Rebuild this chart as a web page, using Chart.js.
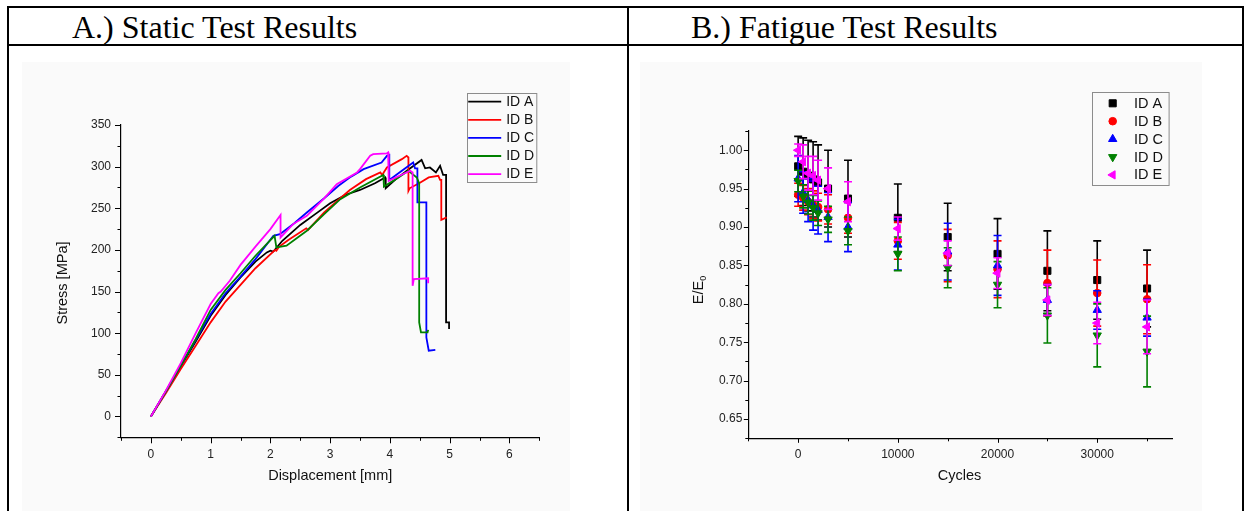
<!DOCTYPE html>
<html><head><meta charset="utf-8">
<script src="https://cdn.jsdelivr.net/npm/chart.js@4.4.0/dist/chart.umd.min.js"></script>
<style>
html,body{margin:0;padding:0;background:#fff;width:1245px;height:511px;overflow:hidden;}
.ln{position:absolute;background:#000;}
.title{position:absolute;font-family:"Liberation Serif","Times New Roman",serif;font-size:32px;line-height:32px;color:#000;white-space:nowrap;}
canvas{position:absolute;}
.bg{position:absolute;background:#fafafa;}
</style></head><body>
<div class="bg" style="left:22px;top:62px;width:548px;height:449px"></div>
<div class="bg" style="left:640px;top:62px;width:562px;height:449px"></div>
<div class="ln" style="left:7px;top:6px;width:1237px;height:2px"></div>
<div class="ln" style="left:7px;top:44px;width:1237px;height:2px"></div>
<div class="ln" style="left:7px;top:6px;width:2px;height:505px"></div>
<div class="ln" style="left:627px;top:6px;width:2px;height:505px"></div>
<div class="ln" style="left:1242px;top:6px;width:2px;height:505px"></div>
<div class="title" style="left:72px;top:11px">A.) Static Test Results</div>
<div class="title" style="left:691px;top:11px">B.) Fatigue Test Results</div>
<canvas id="c1" width="617" height="464" style="left:10px;top:47px;width:617px;height:464px"></canvas>
<canvas id="c2" width="612" height="464" style="left:630px;top:47px;width:612px;height:464px"></canvas>
<script>
// ---------- A.) Static test data ----------
const seriesNames = ['ID A','ID B','ID C','ID D','ID E'];
const seriesColors = ['#000000','#ff0000','#0000ff','#008000','#ff00ff'];

const dispA = [0,0.25,0.5,0.75,1,1.25,1.5,1.75,1.94,2.0,2.05,2.2,2.5,2.75,3,3.25,3.5,3.75,3.92,3.93,4.1,4.3,4.53,4.59,4.67,4.77,4.84,4.89,4.94,4.94,4.99,4.99];
const stressA = [0,30,60,90,121,146,167,186,197,199,198,211,230,243,256,266,272,280,287,274,285,296,308,298,299,293,301,290,290,113,113,105];
const dispB = [0,0.25,0.5,0.75,1,1.25,1.5,1.75,2.08,2.1,2.15,2.3,2.6,2.63,2.9,3.17,3.33,3.6,3.84,3.87,3.95,4.2,4.28,4.31,4.31,4.33,4.51,4.65,4.81,4.84,4.86,4.86,4.95];
const stressB = [0,28,57,85,113,138,158,178,200,199,204,212,226,224,245,262,272,285,293,290,299,309,313,311,271,274,281,287,289,284,284,236,239];
const dispC = [0,0.25,0.5,0.75,1,1.25,1.5,1.75,2.05,2.16,2.4,2.61,2.9,3.14,3.35,3.56,3.86,3.95,3.99,3.99,4.2,4.39,4.42,4.46,4.46,4.61,4.61,4.65,4.76];
const stressC = [0,30,61,92,123,148,168,189,217,219,232,245,262,277,288,297,305,313,314,284,295,305,298,298,257,257,95,79,80];
const dispD = [0,0.25,0.5,0.75,1,1.25,1.5,1.75,2.07,2.1,2.27,2.61,2.9,3.17,3.5,3.89,3.9,4.1,4.31,4.45,4.49,4.49,4.52,4.63,4.64];
const stressD = [0,30,61,93,128,152,172,193,217,203,205,223,243,261,275,290,276,285,295,287,280,113,101,101,104];
const dispE = [0,0.25,0.5,0.75,1,1.13,1.17,1.32,1.5,1.75,2,2.17,2.17,2.38,2.61,2.9,3.11,3.45,3.5,3.67,3.72,3.95,3.97,3.98,4.34,4.38,4.38,4.4,4.64,4.64];
const stressE = [0,31,64,100,135,148,150,163,182,204,225,242,215,231,241,262,279,293,297,313,315,316,317,283,295,293,157,165,166,160];

const staticYMajor = [0,50,100,150,200,250,300,350];
const staticYMinor = [-25,25,75,125,175,225,275,325];
const staticXMajor = [0,1,2,3,4,5,6];
const staticXMinor = [-0.5,0.5,1.5,2.5,3.5,4.5,5.5,6.5];
const staticXLabels = ['0','1','2','3','4','5','6'];

// ---------- B.) Fatigue test data ----------
const cycles = [0,500,1000,1500,2000,3000,5000,10000,15000,20000,25000,30000,35000];
const meanA = [0.979,0.972,0.967,0.962,0.958,0.950,0.937,0.912,0.887,0.865,0.843,0.831,0.820];
const errA  = [0.039,0.044,0.046,0.049,0.049,0.050,0.050,0.044,0.044,0.046,0.052,0.051,0.050];
const meanB = [0.942,0.938,0.933,0.929,0.926,0.923,0.912,0.882,0.863,0.845,0.827,0.814,0.806];
const errB  = [0.015,0.016,0.017,0.018,0.018,0.019,0.020,0.024,0.034,0.037,0.043,0.043,0.045];
const meanC = [0.963,0.945,0.935,0.928,0.922,0.913,0.900,0.877,0.868,0.850,0.805,0.792,0.782];
const errC  = [0.030,0.027,0.028,0.032,0.031,0.032,0.032,0.033,0.037,0.039,0.020,0.025,0.024];
const meanD = [0.960,0.940,0.932,0.925,0.918,0.910,0.895,0.865,0.847,0.825,0.785,0.759,0.738];
const errD  = [0.014,0.015,0.015,0.016,0.016,0.017,0.018,0.022,0.026,0.030,0.036,0.041,0.046];
const meanE = [1.000,0.985,0.970,0.967,0.961,0.950,0.933,0.898,0.866,0.840,0.805,0.775,0.770];
const errE  = [0.008,0.022,0.022,0.025,0.026,0.027,0.026,0.015,0.016,0.020,0.020,0.027,0.035];

const fatYMajor = [0.65,0.70,0.75,0.80,0.85,0.90,0.95,1.00];
const fatYMinor = [0.625,0.675,0.725,0.775,0.825,0.875,0.925,0.975,1.025];
const fatXMajor = [0,10000,20000,30000];
const fatXMinor = [-5000,5000,15000,25000,35000];
const fatXLabels = ['0','10000','20000','30000'];

const markerStyles = ['rect','circle','triangle','triangle','triangle'];
const markerRot = [0,0,0,180,270];
const markerRad = [5,3.8,4.8,4.8,4.8];

// ---------- helpers ----------
const FONT = '"Liberation Sans", Arial, sans-serif';
function zip(xs, ys){ return xs.map((x,i)=>({x:x,y:ys[i]})); }

function tickPlugin(xMajor,xMinor,xLabels,yMajor,yMinor,lenMaj,lenMin,labelOff){
  return {
    id:'ticks',
    afterDraw(chart){
      const ctx = chart.ctx, xs = chart.scales.x, ys = chart.scales.y;
      const a = chart.chartArea;
      ctx.save();
      ctx.strokeStyle = '#000'; ctx.lineWidth = 1;
      ctx.beginPath();
      yMajor.forEach(v=>{const p=Math.round(ys.getPixelForValue(v))+0.5; ctx.moveTo(a.left-lenMaj,p); ctx.lineTo(a.left,p);});
      yMinor.forEach(v=>{const p=Math.round(ys.getPixelForValue(v))+0.5; ctx.moveTo(a.left-lenMin,p); ctx.lineTo(a.left,p);});
      xMajor.forEach(v=>{const p=Math.round(xs.getPixelForValue(v))+0.5; ctx.moveTo(p,a.bottom); ctx.lineTo(p,a.bottom+lenMaj);});
      xMinor.forEach(v=>{const p=Math.round(xs.getPixelForValue(v))+0.5; ctx.moveTo(p,a.bottom); ctx.lineTo(p,a.bottom+lenMin);});
      ctx.stroke();
      ctx.fillStyle = '#222';
      ctx.font = '12px ' + FONT;
      ctx.textAlign = 'center'; ctx.textBaseline = 'alphabetic';
      xMajor.forEach((v,k)=>{ ctx.fillText(xLabels[k], xs.getPixelForValue(v), a.bottom + labelOff); });
      ctx.restore();
    }
  };
}

function titlesPlugin(xTitle, yTitle, xPos, yPos, sub){
  return {
    id:'titles',
    afterDraw(chart){
      const ctx = chart.ctx;
      ctx.save();
      ctx.fillStyle = '#111';
      ctx.font = '14.5px ' + FONT;
      ctx.textAlign = 'center'; ctx.textBaseline = 'middle';
      ctx.fillText(xTitle, xPos[0], xPos[1]);
      ctx.translate(yPos[0], yPos[1]);
      ctx.rotate(-Math.PI/2);
      if (sub){
        const w = ctx.measureText(yTitle).width;
        ctx.font = '9px ' + FONT;
        const ws = ctx.measureText(sub).width;
        ctx.font = '14.5px ' + FONT;
        ctx.textAlign = 'left';
        const x0 = -(w+ws)/2;
        ctx.fillText(yTitle, x0, 0);
        ctx.font = '9px ' + FONT;
        ctx.fillText(sub, x0 + w, 5);
      } else {
        ctx.fillText(yTitle, 0, 0);
      }
      ctx.restore();
    }
  };
}

function axisOpts(min,max,step,labelFn,pad,showLabels){
  return {
    type:'linear', min:min, max:max,
    grid:{display:true, drawOnChartArea:false, drawTicks:false},
    border:{display:true, color:'#000', width:1.2},
    ticks:{display:showLabels, stepSize:step, autoSkip:false, maxRotation:0, padding:pad, color:'#222',
      font:{family:FONT, size:12}, callback:labelFn}
  };
}

// ---------- Chart A ----------
const staticDisp = [dispA,dispB,dispC,dispD,dispE];
const staticStress = [stressA,stressB,stressC,stressD,stressE];

const legendA = {
  id:'legendA',
  afterDraw(chart){
    const ctx = chart.ctx;
    const bx = 466.7-10, by = 92.7-47, bw = 69.3, bh = 89;
    ctx.save();
    ctx.strokeStyle = '#8c8c8c'; ctx.lineWidth = 1;
    ctx.strokeRect(Math.round(bx)+0.5, Math.round(by)+0.5, bw, bh);
    ctx.font = '14px ' + FONT; ctx.textBaseline='middle'; ctx.textAlign='left';
    chart.data.datasets.forEach((ds,i)=>{
      const y = by + 9 + i*18.1;
      ctx.strokeStyle = ds.borderColor; ctx.lineWidth = 1.8;
      ctx.beginPath(); ctx.moveTo(bx+1.5, y); ctx.lineTo(bx+34.5, y); ctx.stroke();
      ctx.fillStyle = '#111';
      ctx.fillText(ds.label, bx+39.5, y+0.5);
    });
    ctx.restore();
  }
};

new Chart(document.getElementById('c1'), {
  type:'scatter',
  data:{ datasets: seriesNames.map((n,i)=>({
    label:n, data:zip(staticDisp[i], staticStress[i]), showLine:true,
    borderColor:seriesColors[i], backgroundColor:seriesColors[i], borderWidth:1.8,
    pointRadius:0, tension:0, order:5-i
  }))},
  options:{
    responsive:false, animation:false, devicePixelRatio:1,
    layout:{padding:{left:0, top:78, right:617-529.3, bottom:464-390.3-30}},
    plugins:{legend:{display:false}, tooltip:{enabled:false}},
    scales:{
      x: Object.assign(axisOpts(-0.5,6.5,0.5,()=>'',9,false), {
        afterFit(s){ s.height = 30; }
      }),
      y: Object.assign(axisOpts(-25,350,25,(v)=>(v>=0 && v%50===0)?String(v):'',10,true), {
        afterFit(s){ s.width = 111; }
      })
    }
  },
  plugins:[tickPlugin(staticXMajor,staticXMinor,staticXLabels,staticYMajor,staticYMinor,6,3.5,20.3),
           titlesPlugin('Displacement [mm]','Stress [MPa]',[330.2-10,475.5-47],[63-10,283-47],null),
           legendA]
});

// ---------- Chart B ----------
const fatMeans = [meanA,meanB,meanC,meanD,meanE];
const fatErrs = [errA,errB,errC,errD,errE];

const errorBars = {
  id:'errorBars',
  beforeDatasetDraw(chart,args){
    const i = args.index, ctx = chart.ctx;
    const xs = chart.scales.x, ys = chart.scales.y;
    ctx.save();
    ctx.strokeStyle = seriesColors[i]; ctx.lineWidth = 1.6;
    ctx.beginPath();
    cycles.forEach((c,k)=>{
      const px = xs.getPixelForValue(c);
      const y1 = ys.getPixelForValue(fatMeans[i][k]+fatErrs[i][k]);
      const y2 = ys.getPixelForValue(fatMeans[i][k]-fatErrs[i][k]);
      ctx.moveTo(px,y1); ctx.lineTo(px,y2);
      ctx.moveTo(px-4,y1); ctx.lineTo(px+4,y1);
      ctx.moveTo(px-4,y2); ctx.lineTo(px+4,y2);
    });
    ctx.stroke();
    ctx.restore();
  }
};

const legendB = {
  id:'legendB',
  afterDraw(chart){
    const ctx = chart.ctx;
    const bx = 1091.7-630, by = 92.3-47, bw = 76.6, bh = 93;
    ctx.save();
    ctx.strokeStyle = '#8c8c8c'; ctx.lineWidth = 1;
    ctx.strokeRect(Math.round(bx)+0.5, Math.round(by)+0.5, bw, bh);
    ctx.font = '14.5px ' + FONT; ctx.textBaseline='middle'; ctx.textAlign='left';
    chart.data.datasets.forEach((ds,i)=>{
      const y = by + 11 + i*17.9;
      ctx.fillStyle = seriesColors[i]; ctx.strokeStyle = seriesColors[i];
      Chart.helpers.drawPoint(ctx, {pointStyle:markerStyles[i], rotation:markerRot[i], radius:markerRad[i], borderWidth:1}, bx+21, y);
      ctx.fillStyle = '#111';
      ctx.fillText(ds.label, bx+42.3, y+0.5);
    });
    ctx.restore();
  }
};

new Chart(document.getElementById('c2'), {
  type:'scatter',
  data:{ datasets: seriesNames.map((n,i)=>({
    label:n, data:zip(cycles, fatMeans[i]),
    borderColor:seriesColors[i], backgroundColor:seriesColors[i], borderWidth:1,
    pointStyle:markerStyles[i], rotation:markerRot[i], pointRadius:markerRad[i], order:5-i
  }))},
  options:{
    responsive:false, animation:false, devicePixelRatio:1,
    layout:{padding:{left:0, top:84, right:612-542, bottom:464-391.3-30}},
    plugins:{legend:{display:false}, tooltip:{enabled:false}},
    scales:{
      x: Object.assign(axisOpts(-5000,37500,5000,()=>'',9,false), {
        afterFit(s){ s.height = 30; }
      }),
      y: Object.assign(axisOpts(0.625,1.025,0.025,(v)=>(Math.round(v*1000)%50===0)?v.toFixed(2):'',6,true), {
        afterFit(s){ s.width = 118.3; }
      })
    }
  },
  plugins:[errorBars, tickPlugin(fatXMajor,fatXMinor,fatXLabels,fatYMajor,fatYMinor,4.5,3,20),
           titlesPlugin('Cycles','E/E',[959.5-630,476-47],[699-630,290-47],'0'),
           legendB]
});
</script>
</body></html>
